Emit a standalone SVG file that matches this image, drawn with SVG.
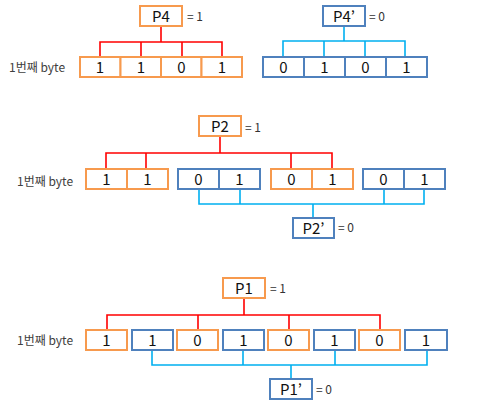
<svg xmlns="http://www.w3.org/2000/svg" width="502" height="403" viewBox="0 0 502 403">
<style>
.o{fill:#fff;stroke:#F79A4E;stroke-width:2}
.b{fill:#fff;stroke:#4F81BD;stroke-width:2}
.red{fill:none;stroke:#FF0000;stroke-width:1.6}
.cy{fill:none;stroke:#00B0F0;stroke-width:1.6}
.d{font-family:"Noto Sans CJK KR","Noto Sans",sans-serif;font-size:15px;fill:#111;text-anchor:middle}
.p{font-family:"Noto Sans CJK KR","Noto Sans",sans-serif;font-size:15px;fill:#111;text-anchor:middle}
.eq{font-family:"Noto Sans CJK KR","Noto Sans",sans-serif;font-size:12px;fill:#333}
.lb{font-family:"Noto Sans CJK KR","Noto Sans",sans-serif;font-size:12px;fill:#404040}
</style>
<rect width="502" height="403" fill="#fff"/>
<g id="connectors">
<path class="red" d="M161,26V42M100,57V42H222V57M141,42V57M182,42V57"/>
<path class="cy" d="M344,26V41M283,57V41H405V57M324,41V57M365,41V57"/>
<path class="red" d="M220,136V153M106,169V153H332V169M146,153V169M291,153V169"/>
<path class="cy" d="M199,189V204H424V189M240,189V204M384,189V204M313,204V218"/>
<path class="red" d="M244,298V315M107,330V315H380V330M198,315V330M289,315V330"/>
<path class="cy" d="M152,350V365H427V350M243,350V365M335,350V365M291,365V379"/>
</g>
<g id="section-p4">
<g id="P4"><rect class="o" x="140" y="6" width="42" height="20"/><text class="p" x="161" y="21.5">P4</text><text class="eq" x="187" y="20.5">= 1</text></g>
<text class="lb" x="9" y="72">1번째 byte</text>
<g id="byte4a">
<rect class="o" x="80" y="57" width="40.5" height="20"/><rect class="o" x="120.5" y="57" width="40.5" height="20"/><rect class="o" x="161" y="57" width="40.5" height="20"/><rect class="o" x="201.5" y="57" width="40.5" height="20"/>
<text class="d" x="100" y="72.5">1</text><text class="d" x="141" y="72.5">1</text><text class="d" x="181.5" y="72.5">0</text><text class="d" x="222" y="72.5">1</text>
</g>
<g id="P4p"><rect class="b" x="323" y="6" width="42" height="20"/><text class="p" x="344" y="21.5">P4’</text><text class="eq" x="369" y="20.5">= 0</text></g>
<g id="byte4b">
<rect class="b" x="263" y="57" width="41" height="20"/><rect class="b" x="304" y="57" width="41" height="20"/><rect class="b" x="345" y="57" width="41" height="20"/><rect class="b" x="386" y="57" width="41" height="20"/>
<text class="d" x="283.5" y="72.5">0</text><text class="d" x="324.5" y="72.5">1</text><text class="d" x="365.5" y="72.5">0</text><text class="d" x="406.5" y="72.5">1</text>
</g>
</g>
<g id="section-p2">
<g id="P2"><rect class="o" x="199" y="116" width="42" height="20"/><text class="p" x="220" y="131.5">P2</text><text class="eq" x="245" y="131.5">= 1</text></g>
<text class="lb" x="17" y="186">1번째 byte</text>
<g id="byte2">
<rect class="o" x="86" y="169" width="41" height="20"/><rect class="o" x="127" y="169" width="41" height="20"/>
<rect class="b" x="178" y="169" width="41" height="20"/><rect class="b" x="219" y="169" width="41" height="20"/>
<rect class="o" x="271" y="169" width="41" height="20"/><rect class="o" x="312" y="169" width="41" height="20"/>
<rect class="b" x="363" y="169" width="41" height="20"/><rect class="b" x="404" y="169" width="41" height="20"/>
<text class="d" x="106.5" y="184.5">1</text><text class="d" x="147.5" y="184.5">1</text>
<text class="d" x="198.5" y="184.5">0</text><text class="d" x="239.5" y="184.5">1</text>
<text class="d" x="291.5" y="184.5">0</text><text class="d" x="332.5" y="184.5">1</text>
<text class="d" x="383.5" y="184.5">0</text><text class="d" x="424.5" y="184.5">1</text>
</g>
<g id="P2p"><rect class="b" x="293" y="218" width="41" height="20"/><text class="p" x="313.5" y="233.5">P2’</text><text class="eq" x="338" y="232">= 0</text></g>
</g>
<g id="section-p1">
<g id="P1"><rect class="o" x="223" y="278" width="42" height="20"/><text class="p" x="244" y="293.5">P1</text><text class="eq" x="270" y="293">= 1</text></g>
<text class="lb" x="17" y="344.5">1번째 byte</text>
<g id="byte1">
<rect class="o" x="86" y="330" width="41" height="20"/>
<rect class="b" x="132" y="330" width="41" height="20"/>
<rect class="o" x="177" y="330" width="41" height="20"/>
<rect class="b" x="223" y="330" width="41" height="20"/>
<rect class="o" x="268" y="330" width="41" height="20"/>
<rect class="b" x="314" y="330" width="41" height="20"/>
<rect class="o" x="359" y="330" width="41" height="20"/>
<rect class="b" x="405" y="330" width="42" height="20"/>
<text class="d" x="106.5" y="345.5">1</text><text class="d" x="152.5" y="345.5">1</text><text class="d" x="197.5" y="345.5">0</text><text class="d" x="243.5" y="345.5">1</text>
<text class="d" x="288.5" y="345.5">0</text><text class="d" x="334.5" y="345.5">1</text><text class="d" x="379.5" y="345.5">0</text><text class="d" x="426" y="345.5">1</text>
</g>
<g id="P1p"><rect class="b" x="270" y="379" width="42" height="20"/><text class="p" x="291" y="394.5">P1’</text><text class="eq" x="316" y="393.5">= 0</text></g>
</g>
</svg>
